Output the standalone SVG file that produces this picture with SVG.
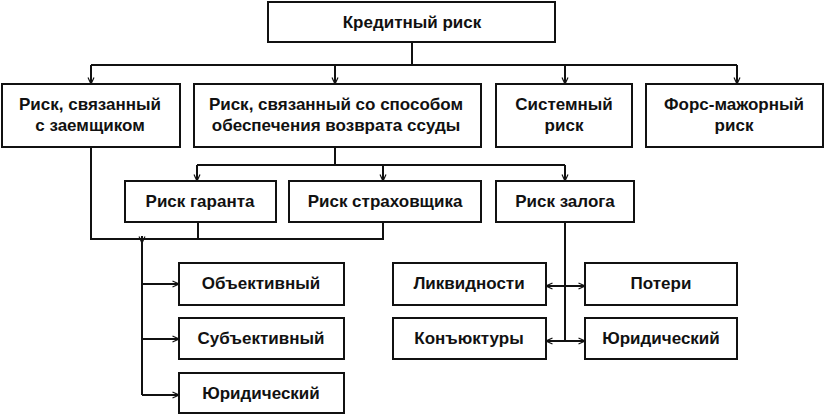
<svg xmlns="http://www.w3.org/2000/svg" width="825" height="415" viewBox="0 0 825 415">
<style>
.box{fill:#fff;stroke:#111;stroke-width:2}
.t{font-family:"Liberation Sans",Arial,sans-serif;font-weight:bold;font-size:17px;fill:#111;text-anchor:middle}
.c{fill:none;stroke:#111;stroke-width:2}
.a{fill:none;stroke:#111;stroke-width:2;marker-end:url(#ah)}
.b{fill:none;stroke:#111;stroke-width:2;marker-end:url(#ah);marker-start:url(#ah)}
</style>
<defs>
<marker id="ah" viewBox="0 0 8 8" refX="7.5" refY="4" markerWidth="8" markerHeight="8" markerUnits="userSpaceOnUse" orient="auto-start-reverse">
<path d="M1,1 L7.5,4 L1,7" fill="none" stroke="#111" stroke-width="1.2"/>
</marker>
</defs>
<rect width="825" height="415" fill="#fff"/>
<g id="connectors">
<path class="c" d="M412,42 V65 M91,65 H737"/>
<path class="a" d="M91,65 V84"/>
<path class="a" d="M335,65 V84"/>
<path class="a" d="M565,65 V84"/>
<path class="a" d="M737,65 V84"/>
<path class="c" d="M91,147 V239 H383 V222 M198,222 V239"/>
<path class="a" d="M142,236 V243"/>
<path class="c" d="M142,239 V395"/>
<path class="a" d="M142,284 H179"/>
<path class="a" d="M142,339 H179"/>
<path class="a" d="M142,395 H179"/>
<path class="c" d="M335,147 V165 M197,165 H565"/>
<path class="a" d="M197,165 V181"/>
<path class="a" d="M383,165 V181"/>
<path class="a" d="M565,165 V181"/>
<path class="c" d="M565,222 V341"/>
<path class="b" d="M546,286 H585"/>
<path class="b" d="M546,341 H585"/>
</g>
<g id="n-credit"><rect class="box" x="268" y="2" width="287" height="40"/><text class="t" x="412" y="28">Кредитный риск</text></g>
<g id="n-borrower"><rect class="box" x="2" y="84" width="178" height="63"/><text class="t" x="90" y="110">Риск, связанный</text><text class="t" x="90" y="131">с заемщиком</text></g>
<g id="n-method"><rect class="box" x="194" y="84" width="287" height="63"/><text class="t" x="336" y="110">Риск, связанный со способом</text><text class="t" x="336" y="131">обеспечения возврата ссуды</text></g>
<g id="n-system"><rect class="box" x="496" y="84" width="136" height="63"/><text class="t" x="564" y="110">Системный</text><text class="t" x="564" y="131">риск</text></g>
<g id="n-force"><rect class="box" x="646" y="84" width="177" height="63"/><text class="t" x="734" y="110">Форс-мажорный</text><text class="t" x="734" y="131">риск</text></g>
<g id="n-guarantor"><rect class="box" x="125" y="181" width="151" height="41"/><text class="t" x="200" y="207">Риск гаранта</text></g>
<g id="n-insurer"><rect class="box" x="289" y="181" width="192" height="41"/><text class="t" x="385" y="207">Риск страховщика</text></g>
<g id="n-collateral"><rect class="box" x="496" y="181" width="138" height="41"/><text class="t" x="565" y="207">Риск залога</text></g>
<g id="n-objective"><rect class="box" x="179" y="263" width="165" height="42"/><text class="t" x="261" y="289">Объективный</text></g>
<g id="n-subjective"><rect class="box" x="179" y="318" width="165" height="41"/><text class="t" x="261" y="344">Субъективный</text></g>
<g id="n-legal1"><rect class="box" x="179" y="373" width="165" height="40"/><text class="t" x="261" y="399">Юридический</text></g>
<g id="n-liquidity"><rect class="box" x="393" y="263" width="153" height="42"/><text class="t" x="469" y="289">Ликвидности</text></g>
<g id="n-conjuncture"><rect class="box" x="393" y="318" width="153" height="41"/><text class="t" x="469" y="344">Конъюктуры</text></g>
<g id="n-loss"><rect class="box" x="585" y="263" width="152" height="42"/><text class="t" x="661" y="289">Потери</text></g>
<g id="n-legal2"><rect class="box" x="585" y="318" width="152" height="41"/><text class="t" x="661" y="344">Юридический</text></g>
</svg>
